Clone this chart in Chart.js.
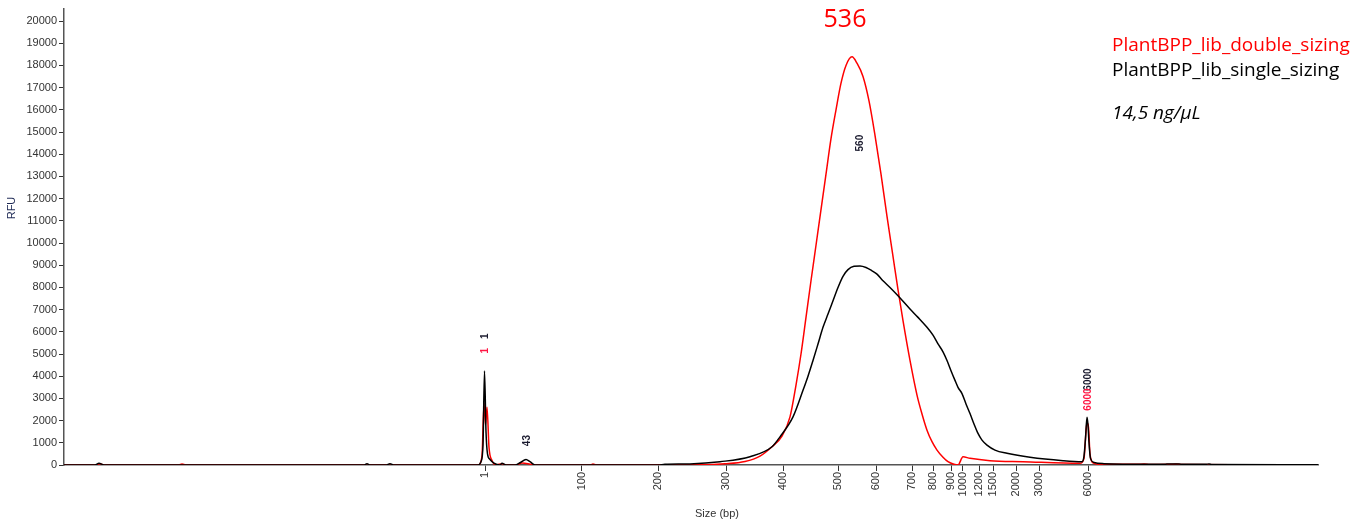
<!DOCTYPE html>
<html>
<head>
<meta charset="utf-8">
<script src="https://cdn.jsdelivr.net/npm/chart.js@4/dist/chart.umd.min.js"></script>
<style>
    html, body { margin: 0; padding: 0; background: #fff; }
    #wrap { width: 1353px; height: 526px; position: relative; }
</style>
</head>
<body>
<div id="wrap"><canvas id="chart"></canvas></div>
<script>
// scan position (run time units) and RFU
const singleScan = [0, 31, 35, 40, 300, 303, 306, 322, 326, 330, 414, 417, 419, 420.5, 422, 423.5, 426, 430, 436, 438, 442,
    451, 456, 462, 466, 471, 594, 601, 626, 656, 686, 708, 716, 729, 739, 744, 749, 754, 759, 764, 769, 774, 779,
    784, 790, 796, 802, 808, 813, 819, 826, 834, 846, 854, 863, 869, 874, 879, 883, 887, 891, 894, 898, 902, 906,
    910, 914, 918, 923, 931, 943, 966, 999, 1018, 1020, 1021.5, 1023, 1024, 1025, 1026.5, 1030, 1040, 1085, 1100,
    1106, 1115, 1120, 1142, 1145, 1148, 1254];
const singleRfu = [0, 0, 80, 0, 0, 60, 0, 0, 60, 0, 0, 150, 900, 4230, 1500, 500, 250, 80, 0, 80, 0,
    0, 100, 250, 150, 0, 0, 30, 50, 148, 372, 821, 1269, 2166, 3363, 4000, 4709, 5450, 6202, 6800, 7400, 8000, 8500,
    8800, 8950, 8969, 8900, 8750, 8596, 8300, 7996, 7623, 7027, 6650, 6202, 5850, 5457, 5100, 4709, 4250, 3812, 3500, 3215, 2750, 2318,
    1850, 1422, 1120, 897, 673, 525, 345, 193, 148, 400, 1200, 2150, 1800, 1000, 300, 120, 60, 30, 30,
    50, 45, 30, 30, 50, 20, 10];

const doubleScan = [0, 32, 36, 40, 115, 118, 122, 414, 418, 420, 421.5, 423, 425, 428, 432, 438, 442, 452, 458, 464, 470,
    527, 529, 532, 636, 661, 681, 696, 708, 718, 726, 732, 737, 742, 747, 752, 757, 762, 767, 772, 777, 782, 788,
    793, 799, 805, 811, 817, 823, 829, 834, 839, 846, 853, 858, 863, 868, 873, 879, 884, 890, 894, 899, 906, 926,
    959, 1016, 1020, 1022, 1023, 1024.5, 1026, 1029, 1036, 1074, 1080, 1086, 1106, 1112, 1118, 1254];
const doubleRfu = [0, 0, 60, 0, 0, 50, 0, 0, 400, 2780, 1800, 2600, 800, 200, 0, 60, 0, 0, 90, 60, 0,
    0, 50, 0, 10, 54, 157, 400, 821, 1300, 2166, 3600, 5000, 6650, 8300, 9900, 11500, 13100, 14700, 16000, 17200, 18000, 18386,
    18100, 17500, 16400, 14850, 13100, 11200, 9400, 7900, 6500, 4709, 3150, 2300, 1570, 1050, 673, 350, 148, 30, 0, 372, 300, 193,
    148, 76, 300, 1500, 1900, 1700, 500, 100, 30, 30, 40, 20, 30, 40, 20, 0];

// size ladder: scan position of each size tick and its label
const sizeTickPos = [421, 517.5, 594, 662, 719, 774, 812, 848, 869, 887, 899, 915, 929, 952, 975, 1024];
const sizeTickLabels = ['1', '100', '200', '300', '400', '500', '600', '700', '800', '900', '1000', '1200', '1500', '2000', '3000', '6000'];
const rfuTicks = [0, 1000, 2000, 3000, 4000, 5000, 6000, 7000, 8000, 9000, 10000, 11000, 12000, 13000, 14000, 15000, 16000, 17000, 18000, 19000, 20000];

// peak calls written above the peaks
const peakText = ['1', '1', '43', '560', '6000', '6000'];
const peakScan = [421, 421, 463, 796, 1024, 1024];
const peakRfu = [5800, 5150, 1100, 14500, 3850, 2950];
const peakColor = ['#1a1a2e', '#ff1744', '#1a1a2e', '#1a1a2e', '#1a1a2e', '#ff1744'];

const sampleNames = ['PlantBPP_lib_double_sizing', 'PlantBPP_lib_single_sizing'];
const sampleColors = ['#ff0000', '#000000'];
const concText = '14,5 ng/\u00b5L';
const mainPeakText = '536';

function toPoints(xs, ys) {
    return xs.map((x, i) => ({ x: x, y: ys[i] }));
}

const overlayPlugin = {
    id: 'overlay',
    afterDatasetsDraw(chart) {
        const ctx = chart.ctx;
        const xs = chart.scales.x;
        const ys = chart.scales.y;
        ctx.save();

        // peak calls, rotated
        ctx.font = 'bold 10px "Liberation Sans", Arial, sans-serif';
        ctx.textAlign = 'center';
        ctx.textBaseline = 'middle';
        peakText.forEach((t, i) => {
            const px = xs.getPixelForValue(peakScan[i]);
            const py = ys.getPixelForValue(peakRfu[i]);
            ctx.save();
            ctx.translate(px, py);
            ctx.rotate(-Math.PI / 2);
            ctx.fillStyle = peakColor[i];
            ctx.fillText(t, 0, 0);
            ctx.restore();
        });

        // main peak size
        ctx.fillStyle = '#ff0000';
        ctx.font = '25px "Open Sans", sans-serif';
        ctx.textAlign = 'center';
        ctx.fillText(mainPeakText, 845, 20);

        // sample legend
        ctx.textAlign = 'left';
        ctx.font = '19px "Open Sans", sans-serif';
        sampleNames.forEach((n, i) => {
            ctx.fillStyle = sampleColors[i];
            ctx.fillText(n, 1112, 46 + i * 25);
        });
        ctx.fillStyle = '#000';
        ctx.font = 'italic 19px "Open Sans", sans-serif';
        ctx.fillText(concText, 1112, 114);

        // axis titles
        ctx.fillStyle = '#333';
        ctx.font = '11px "Liberation Sans", Arial, sans-serif';
        ctx.textAlign = 'center';
        ctx.fillText('Size (bp)', 717, 514);
        ctx.save();
        ctx.translate(12, 208);
        ctx.rotate(-Math.PI / 2);
        ctx.fillStyle = '#1f2a55';
        ctx.fillText('RFU', 0, 0);
        ctx.restore();

        ctx.restore();
    }
};

new Chart(document.getElementById('chart'), {
    type: 'line',
    data: {
        datasets: [
            {
                label: sampleNames[1],
                data: toPoints(singleScan, singleRfu),
                borderColor: sampleColors[1],
                borderWidth: 1.5,
                pointRadius: 0,
                cubicInterpolationMode: 'monotone',
                fill: false
            },
            {
                label: sampleNames[0],
                data: toPoints(doubleScan, doubleRfu),
                borderColor: sampleColors[0],
                borderWidth: 1.5,
                pointRadius: 0,
                cubicInterpolationMode: 'monotone',
                fill: false
            }
        ]
    },
    options: {
        responsive: true,
        maintainAspectRatio: false,
        animation: false,
        layout: { padding: { top: 3, right: 35, left: 0, bottom: 0 } },
        plugins: {
            legend: { display: false },
            tooltip: { enabled: false }
        },
        scales: {
            x: {
                type: 'linear',
                min: 0,
                max: 1254,
                afterBuildTicks: scale => {
                    scale.ticks = sizeTickPos.map(v => ({ value: v }));
                },
                afterFit: scale => { scale.height = 61; },
                grid: { drawOnChartArea: false, tickLength: 6, color: '#333', tickWidth: 1 },
                border: { color: '#555', width: 1.5 },
                ticks: {
                    autoSkip: false,
                    minRotation: 90,
                    maxRotation: 90,
                    padding: 1,
                    color: '#333',
                    font: { family: '"Liberation Sans", Arial, sans-serif', size: 11 },
                    callback: (value, index) => sizeTickLabels[index]
                }
            },
            y: {
                min: 0,
                max: 20560,
                afterBuildTicks: scale => {
                    scale.ticks = rfuTicks.map(v => ({ value: v }));
                },
                afterFit: scale => { scale.width = 64; },
                grid: { drawOnChartArea: false, tickLength: 5, color: '#333' },
                border: { color: '#555', width: 1.5 },
                ticks: {
                    autoSkip: false,
                    padding: 2,
                    color: '#333',
                    font: { family: '"Liberation Sans", Arial, sans-serif', size: 11 },
                    callback: (value, index) => String(rfuTicks[index])
                }
            }
        }
    },
    plugins: [overlayPlugin]
});
</script>
</body>
</html>
